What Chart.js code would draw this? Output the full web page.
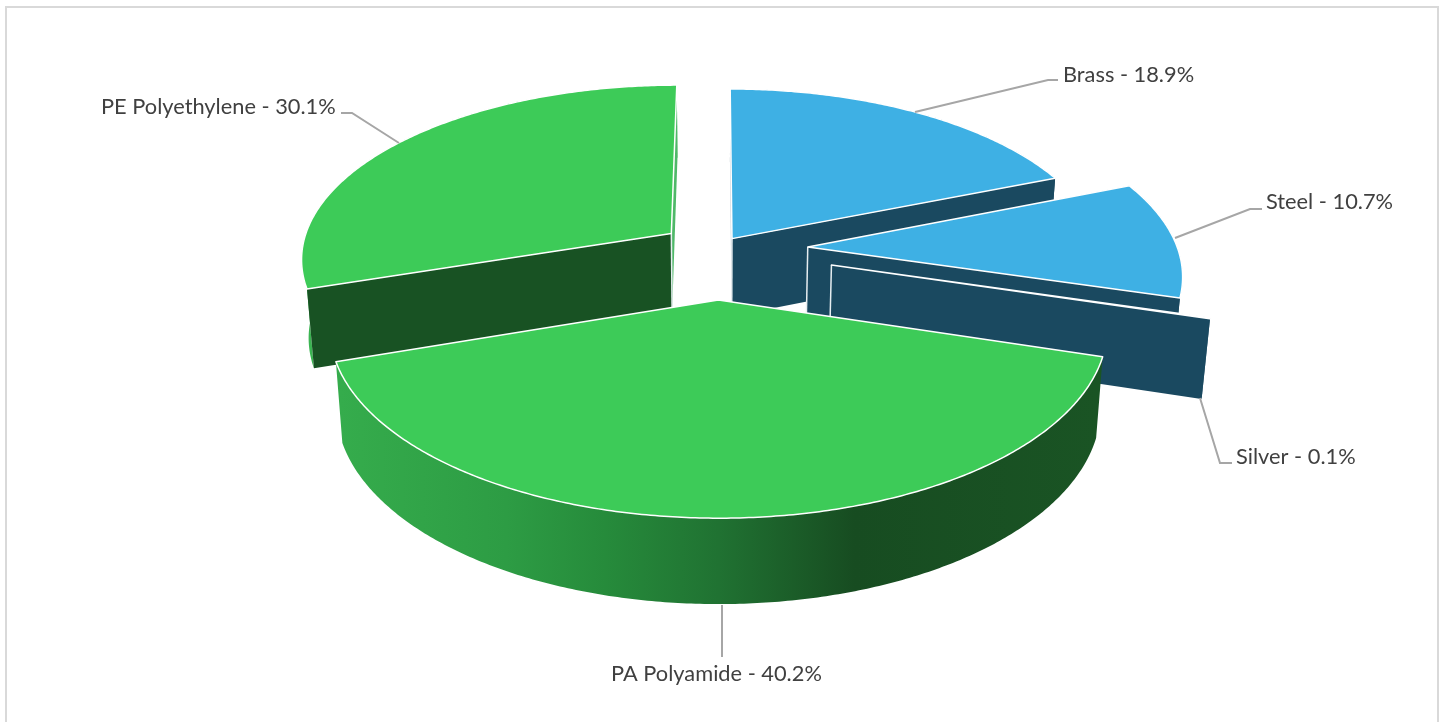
<!DOCTYPE html>
<html>
<head>
<meta charset="utf-8">
<style>
html,body{margin:0;padding:0;background:#fff;overflow:hidden;width:1443px;height:722px}
#wrap{position:absolute;left:0;top:0;width:1443px;height:722px}
#frame{position:absolute;left:5px;top:6px;width:1430px;height:740px;border:2px solid #d9d9d9;box-sizing:content-box}
canvas{position:absolute;left:0;top:0}
</style>
<script src="https://cdn.jsdelivr.net/npm/chart.js@4/dist/chart.umd.min.js"></script>
</head>
<body>
<div id="wrap"><div id="frame"></div><canvas id="c" width="1443" height="722"></canvas></div>
<script>
// ---- data ----
const categories = ["Brass", "Steel", "Silver", "PA Polyamide", "PE Polyethylene"];
const shares = [18.9, 10.7, 0.1, 40.2, 30.1];

// ---- style ----
const explode = [27, 91, 118, 105, 57];
const topColors = ["#3eb0e4", "#3eb0e4", "#3eb0e4", "#3dcb58", "#3dcb58"];
const wallColors = ["#1a4960", "#1a4960", "#1a4960", "#185223", "#185223"];
const paintOrder = [0, 4, 1, 2, 3];
const leaders = [
  [[915,112],[1048,80],[1058,80]],
  [[1175,238],[1250,209],[1262,209]],
  [[1200,398],[1220,463],[1232,463]],
  [[722,605],[722,657]],
  [[399,143],[352,113],[341,113]]
];
const labelAnchors = [[1063,82],[1266,209],[1236,464],[611,681],[101,114]];
const view = {cx:717, cy:249, R:370, D:2700, k:0.467, H:78, taper:0.017};

function project(X, Y, z){
  const w = view.D / (view.D - Y);
  const f = 1 - view.taper * z / view.H;
  return [view.cx + X*w*f, view.cy + view.k*Y*w + z*Math.sqrt(w)];
}
function poly(ctx, pts){
  ctx.beginPath();
  pts.forEach((p,i)=> i ? ctx.lineTo(p[0],p[1]) : ctx.moveTo(p[0],p[1]));
  ctx.closePath();
}
function arcPts(el, e, z){
  const m = (el.startAngle + el.endAngle)/2;
  const ox = Math.cos(m)*e, oy = Math.sin(m)*e;
  const pts = [];
  const n = Math.max(2, Math.ceil((el.endAngle-el.startAngle)/0.01));
  for(let i=0;i<=n;i++){
    const a = el.startAngle + (el.endAngle-el.startAngle)*i/n;
    pts.push(project(ox+Math.cos(a)*view.R, oy+Math.sin(a)*view.R, z));
  }
  return {pts, apex: project(ox, oy, z)};
}
const pie3d = {
  id:'pie3d',
  beforeDatasetDraw(chart){
    const ctx = chart.ctx;
    const arcs = chart.getDatasetMeta(0).data;
    ctx.save();
    ctx.lineJoin = 'round';
    paintOrder.forEach(i=>{
      const el = arcs[i], e = el.options.offset;
      const top = arcPts(el, e, 0), bot = arcPts(el, e, view.H);
      // outer wall
      const outer = top.pts.concat(bot.pts.slice().reverse());
      poly(ctx, outer);
      if(i===3){
        const g = ctx.createLinearGradient(340,0,1097,0);
        g.addColorStop(0,'#35ac4c');
        g.addColorStop(0.22,'#2d9c44');
        g.addColorStop(0.35,'#268b3b');
        g.addColorStop(0.5,'#207232');
        g.addColorStop(0.68,'#174c21');
        g.addColorStop(1,'#1a5424');
        ctx.fillStyle = g;
      } else if(i===4){ ctx.fillStyle = '#3bb552'; }
      else { ctx.fillStyle = wallColors[i]; }
      ctx.fill();
      // radial walls: the start edge, then the end edge
      const s = top.pts[0], sb = bot.pts[0];
      const t = top.pts[top.pts.length-1], tb = bot.pts[bot.pts.length-1];
      const faceA = [top.apex, s, sb, bot.apex];
      const faceB = [top.apex, t, tb, bot.apex];
      if(i===4){
        poly(ctx, faceB); ctx.fillStyle='#4fb868'; ctx.fill();
        poly(ctx, faceA); ctx.fillStyle=wallColors[i]; ctx.fill();
      } else if(i===0){
        poly(ctx, faceA); ctx.fillStyle='#b9c6cf'; ctx.fill();
        poly(ctx, faceB); ctx.fillStyle=wallColors[i]; ctx.fill();
      } else if(i!==3){
        poly(ctx, faceA); ctx.fillStyle=wallColors[i]; ctx.fill();
        poly(ctx, faceB); ctx.fill();
      }
      // light corner edge at the centre of the slice
      if(i!==3){
        ctx.beginPath();
        ctx.moveTo(top.apex[0], top.apex[1]);
        ctx.lineTo(bot.apex[0], bot.apex[1]);
        ctx.strokeStyle = '#e6edf0';
        ctx.lineWidth = 1.5;
        ctx.stroke();
      }
      // top face
      poly(ctx, [top.apex].concat(top.pts));
      ctx.fillStyle = el.options.backgroundColor;
      ctx.fill();
      ctx.strokeStyle = '#ffffff';
      ctx.lineWidth = 1.5;
      ctx.stroke();
    });
    ctx.restore();
    return false;
  },
  afterDraw(chart){
    const ctx = chart.ctx;
    ctx.save();
    ctx.strokeStyle = '#a6a6a6';
    ctx.lineWidth = 2;
    leaders.forEach(pts=>{
      ctx.beginPath();
      pts.forEach((p,i)=> i ? ctx.lineTo(p[0],p[1]) : ctx.moveTo(p[0],p[1]));
      ctx.stroke();
    });
    ctx.fillStyle = '#404040';
    ctx.font = '21.8px Lato';
    ctx.textBaseline = 'alphabetic';
    categories.forEach((name,i)=>{
      ctx.fillText(`${name} - ${shares[i].toFixed(1)}%`, labelAnchors[i][0], labelAnchors[i][1]);
    });
    ctx.restore();
  }
};
new Chart(document.getElementById('c'), {
  type:'pie',
  data:{ labels:categories, datasets:[{ data:shares, backgroundColor:topColors, offset:explode, borderWidth:0 }] },
  options:{
    responsive:false, animation:false, rotation:0, circumference:360,
    plugins:{ legend:{display:false}, tooltip:{enabled:false} }
  },
  plugins:[pie3d]
});
</script>
</body>
</html>
